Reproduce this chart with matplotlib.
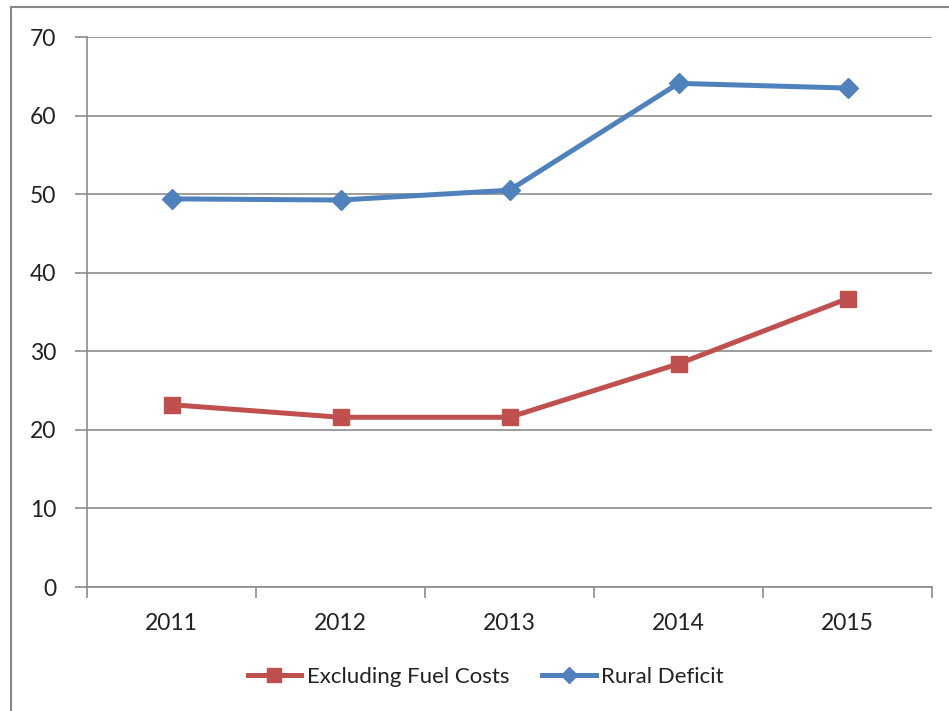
import matplotlib
matplotlib.use("Agg")
import matplotlib.pyplot as plt
from matplotlib.patches import Rectangle

years = ["2011", "2012", "2013", "2014", "2015"]
fuel_costs = [23.2, 21.6, 21.6, 28.4, 36.7]
rural_deficit = [49.4, 49.25, 50.5, 64.1, 63.5]

W, H = 949, 711
fig = plt.figure(figsize=(W / 100, H / 100), dpi=100)
plt.rcParams['font.family'] = ['Lato', 'DejaVu Sans']

# outer chart border
fig.patches.append(Rectangle((11 / W, -0.1), 1.2, 1 - 7 / H + 0.1, transform=fig.transFigure,
                             fill=False, edgecolor="#888888", linewidth=1.5))

ax = fig.add_axes([87 / W, 1 - 587 / H, (932 - 87) / W, (587 - 37) / H])

x = list(range(len(years)))
ax.plot(x, fuel_costs, color="#C0504D", linewidth=3.6, marker="s", markersize=12,
        label="Excluding Fuel Costs", zorder=3)
ax.plot(x, rural_deficit, color="#4F81BD", linewidth=3.6, marker="D", markersize=10,
        label="Rural Deficit", zorder=3)

ax.set_xlim(-0.5, len(years) - 0.5)
ax.set_ylim(0, 70)
ax.set_yticks(range(0, 71, 10))
ax.yaxis.grid(True, color="#8c8c8c", linewidth=1.2)
ax.set_axisbelow(True)

ax.set_xticks(x)
ax.set_xticklabels(years)
ax.set_xticks([i - 0.5 for i in range(len(years) + 1)], minor=True)
ax.tick_params(axis="x", which="major", length=0, pad=19, labelsize=16.5, colors="#222222")
ax.tick_params(axis="x", which="minor", length=8, width=1.2, color="#8c8c8c")
ax.tick_params(axis="y", length=9, width=1.2, color="#8c8c8c", pad=13, labelsize=16.5,
               labelcolor="#222222")

for s in ["top", "right"]:
    ax.spines[s].set_visible(False)
for s in ["left", "bottom"]:
    ax.spines[s].set_color("#8c8c8c")
    ax.spines[s].set_linewidth(1.2)

leg = ax.legend(loc="center", bbox_to_anchor=(0.472, -0.163), ncol=2, frameon=False,
                fontsize=16, handlelength=2.4, handletextpad=0.25, columnspacing=1.5,
                labelcolor="#222222", markerscale=0.85)

fig.savefig("out.png", dpi=100)
